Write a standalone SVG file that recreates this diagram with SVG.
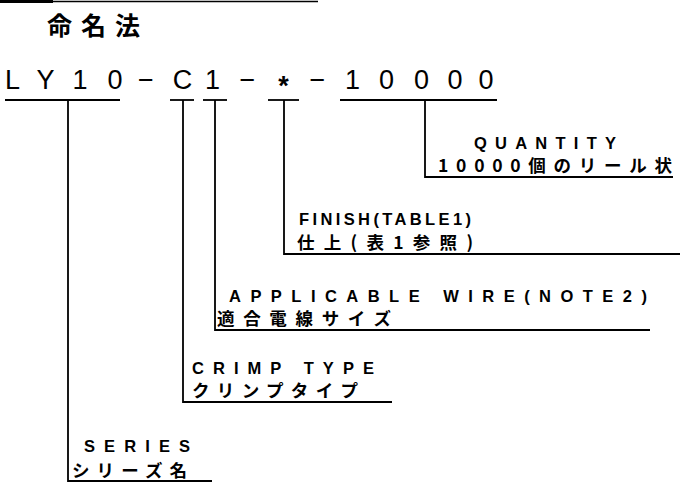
<svg xmlns="http://www.w3.org/2000/svg" width="680" height="484" viewBox="0 0 680 484">
<style>
.ln{stroke:#000;stroke-width:1.8;fill:none}
.en{font-family:"Liberation Sans",Arial,sans-serif;font-weight:bold;font-size:16.5px;fill:#000}
.jp{font-family:"Noto Sans CJK JP","Liberation Sans",sans-serif;font-weight:bold;font-size:17.5px;fill:#000}
.code{font-family:"Liberation Sans",Arial,sans-serif;font-size:27px;fill:#000;text-anchor:middle}
</style>
<rect width="680" height="484" fill="#fff"/>
<g id="header">
<line x1="0" y1="1.5" x2="53" y2="1.5" stroke="#000" stroke-width="3"/>
<line x1="53" y1="1.5" x2="318" y2="1.5" stroke="#000" stroke-width="1.5"/>
<text x="47" y="35" font-family="'Noto Sans CJK JP',sans-serif" font-weight="bold" font-size="25" textLength="93" lengthAdjust="spacing">命名法</text>
</g>
<g id="code">
<text class="code" x="12.5 45.5 80 115" y="89">LY10</text>
<text class="code" x="146" y="89" font-size="30">−</text>
<text class="code" x="182.5 212.5" y="89">C1</text>
<text class="code" x="247.5" y="89" font-size="30">−</text>
<text class="code" x="283.5" y="95" font-weight="bold" font-size="28">*</text>
<text class="code" x="317.5" y="89" font-size="30">−</text>
<text class="code" x="352.5 386.5 421.5 455 486" y="89">10000</text>
</g>
<g id="connectors">
<line class="ln" x1="5" y1="100" x2="120" y2="100"/>
<line class="ln" x1="170" y1="100" x2="194" y2="100"/>
<line class="ln" x1="203" y1="100" x2="227" y2="100"/>
<line class="ln" x1="268" y1="100" x2="299" y2="100"/>
<line class="ln" x1="340" y1="100" x2="497" y2="100"/>
<polyline class="ln" points="68,100 68,481 212,481"/>
<polyline class="ln" points="183,100 183,402 392,402"/>
<polyline class="ln" points="215,100 215,330 650,330"/>
<polyline class="ln" points="284,100 284,254 680,254"/>
<polyline class="ln" points="425,100 425,177 673,177"/>
</g>
<g id="quantity">
<text class="en" x="474" y="149" textLength="142" lengthAdjust="spacing">QUANTITY</text>
<text class="jp" x="438" y="172" textLength="234" lengthAdjust="spacing">10000個のリール状</text>
</g>
<g id="finish">
<text class="en" x="299" y="225" textLength="172" lengthAdjust="spacing">FINISH(TABLE1)</text>
<text class="jp" x="297" y="249" textLength="176" lengthAdjust="spacing">仕上(表1参照)</text>
</g>
<g id="wire">
<text class="en" x="229" y="302" textLength="418" lengthAdjust="spacing">APPLICABLE WIRE(NOTE2)</text>
<text class="jp" x="217" y="325" textLength="174" lengthAdjust="spacing">適合電線サイズ</text>
</g>
<g id="crimp">
<text class="en" x="192" y="374" textLength="182" lengthAdjust="spacing">CRIMP TYPE</text>
<text class="jp" x="192" y="397" textLength="166" lengthAdjust="spacing">クリンプタイプ</text>
</g>
<g id="series">
<text class="en" x="84" y="452" textLength="106" lengthAdjust="spacing">SERIES</text>
<text class="jp" x="72" y="477" textLength="115" lengthAdjust="spacing">シリーズ名</text>
</g>
</svg>
